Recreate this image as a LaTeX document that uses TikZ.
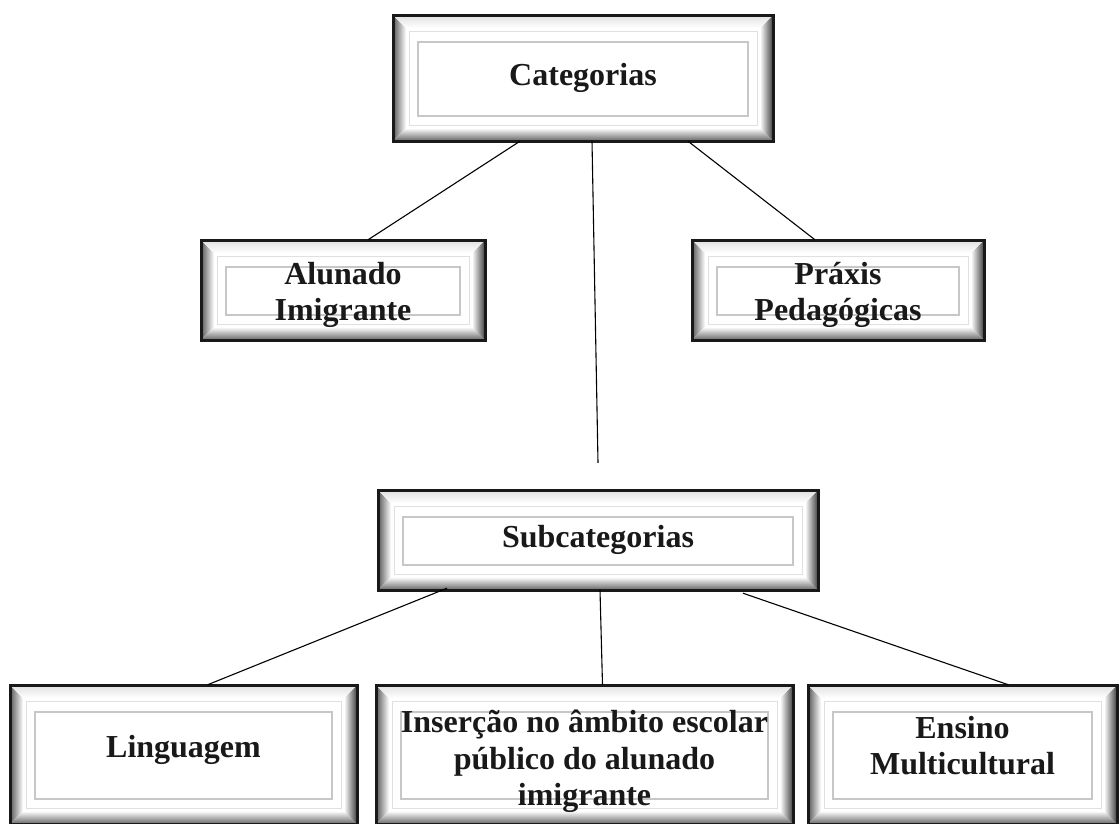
\documentclass[tikz,border=0pt]{standalone}
\usepackage{fontspec}
\setmainfont{Liberation Serif}
\usetikzlibrary{calc}
\tikzset{
  boxshape/.style={draw=none, inner sep=0pt},
  boxtext/.style={draw=none, inner sep=0pt, align=center,
    font=\fontsize{32}{36.5}\selectfont\bfseries, text=black!90},
  link/.style={draw=black, line width=1.1pt},
}
% #1 name, #2 x1, #3 y1, #4 x2, #5 y2, #6 text, #7 text offset (down)
\newcommand{\bevelbox}[7]{%
  \fill[white] (#2,#3) rectangle (#4,#5);
  \shade[left color=black!65, right color=white]
    (#2,#3) -- ({#2+13},{#3+13}) -- ({#2+13},{#5-13}) -- (#2,#5) -- cycle;
  \shade[top color=white, bottom color=black!60]
    (#2,#5) -- ({#2+13},{#5-13}) -- ({#4-13},{#5-13}) -- (#4,#5) -- cycle;
  \shade[left color=white, right color=black!75]
    (#4,#3) -- ({#4-13},{#3+13}) -- ({#4-13},{#5-13}) -- (#4,#5) -- cycle;
  \shade[top color=black!12, bottom color=white]
    (#2,#3) -- ({#2+13},{#3+13}) -- ({#4-13},{#3+13}) -- (#4,#3) -- cycle;
  \draw[black!12, line width=1pt] ({#2+16},{#3+16}) rectangle ({#4-16},{#5-16});
  \draw[black!22, line width=1.3pt] ({#2+25},{#3+27}) rectangle ({#4-25},{#5-25});
  \draw[black!90, line width=3pt] (#2,#3) rectangle (#4,#5);
  \node[boxshape, minimum width={(#4-#2)*1pt}, minimum height={(#5-#3)*1pt}]
    (#1) at ({(#2+#4)/2},{(#3+#5)/2}) {};
  \node[boxtext] (#1-text) at ({(#2+#4)/2},{(#3+#5)/2+#7}) {#6};
}
\begin{document}
\begin{tikzpicture}[x=1pt, y=-1pt]
\useasboundingbox[fill=white] (0,0) rectangle (1119,823);
\bevelbox{cat}{393}{15}{773}{141}{Categorias}{0}
\bevelbox{alu}{201}{240}{485}{340}{Alunado\\Imigrante}{5}
\bevelbox{pra}{692}{240}{984}{340}{Práxis\\Pedagógicas}{5}
\bevelbox{sub}{378}{490}{818}{590}{Subcategorias}{0}
\bevelbox{lin}{10}{685}{357}{824}{Linguagem}{-5}
\bevelbox{ins}{376}{685}{793}{824}{Inserção no âmbito escolar\\público do alunado\\imigrante}{7}
\bevelbox{ens}{808}{685}{1117}{824}{Ensino\\Multicultural}{-9}
\coordinate (subend) at ([yshift=27pt]sub.north);
\draw[link] ([xshift=-63pt]cat.south) -- ([xshift=25pt]alu.north);
\draw[link] ([xshift=9pt]cat.south) -- (subend);
\draw[link] ([xshift=105pt]cat.south) -- ([xshift=-23pt]pra.north);
\draw[link] ([xshift=-151pt, yshift=2pt]sub.south) -- ([xshift=24pt]lin.north);
\draw[link] ([xshift=2pt]sub.south) -- ([xshift=18pt]ins.north);
\draw[link] ([xshift=145pt, yshift=-3pt]sub.south) -- ([xshift=46pt]ens.north);
\end{tikzpicture}
\end{document}
